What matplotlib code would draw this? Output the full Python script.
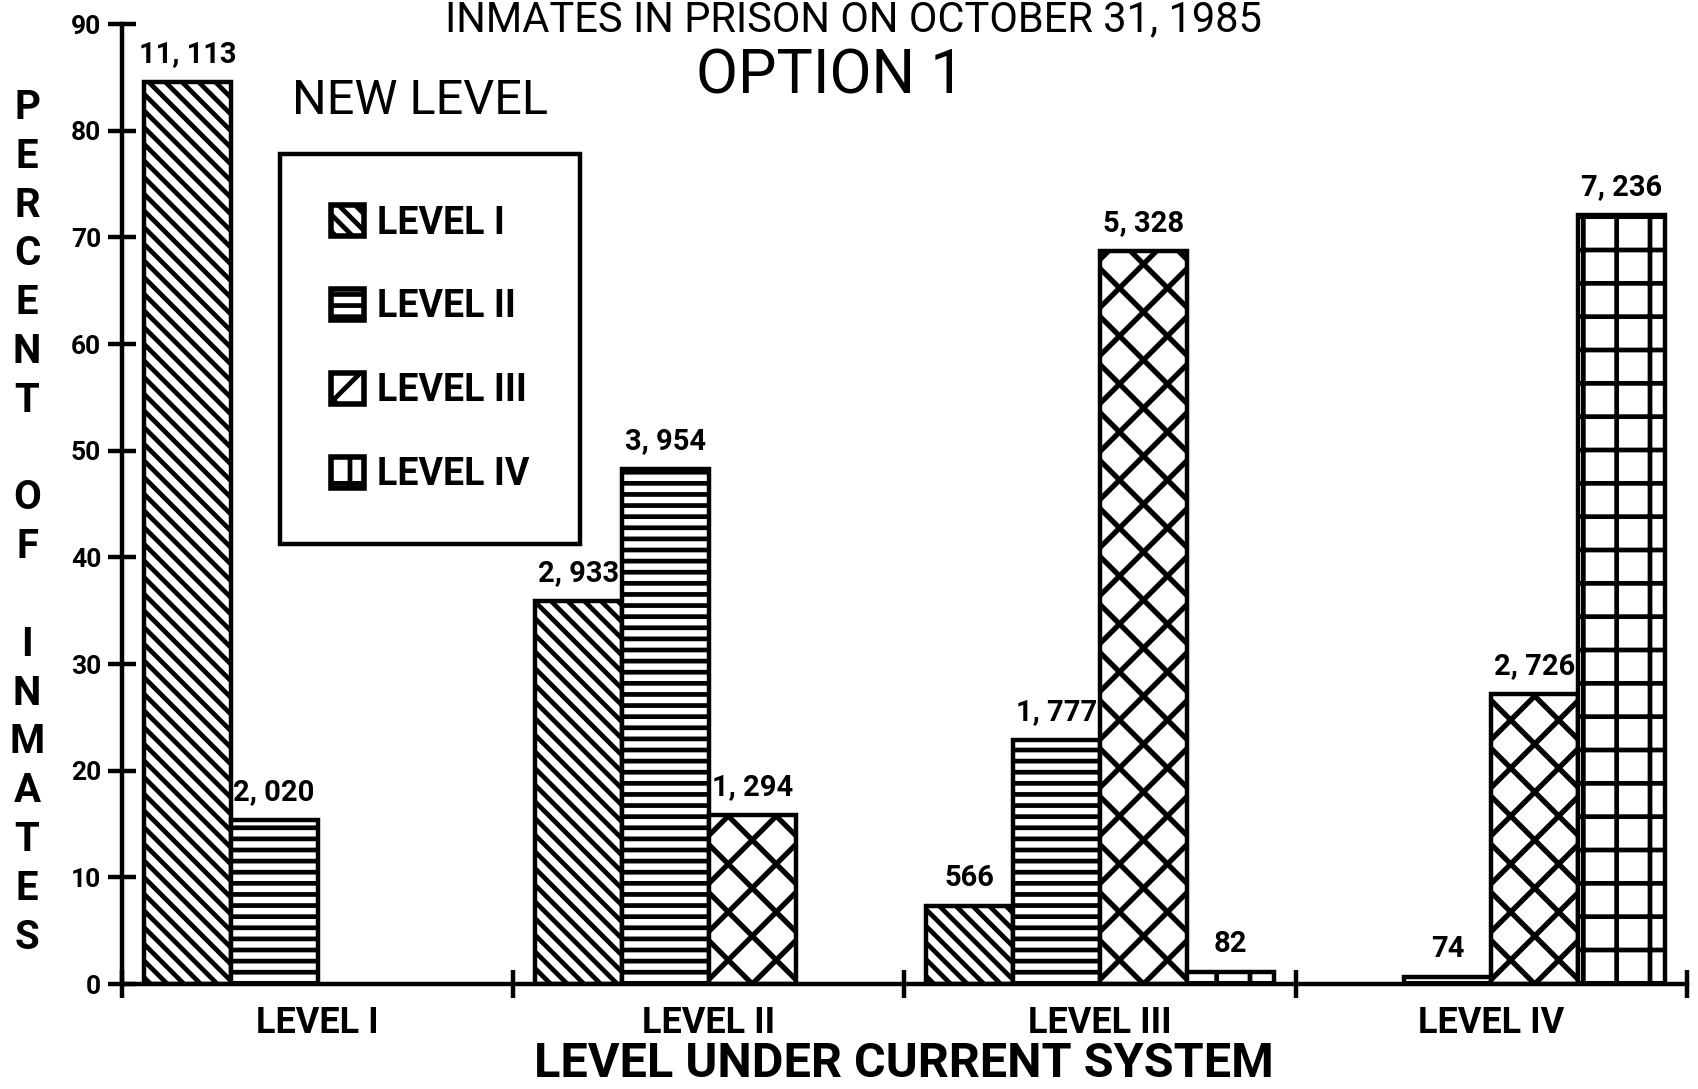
import numpy as np
import matplotlib
matplotlib.use('Agg')
import matplotlib.pyplot as plt
from matplotlib.patches import Patch
from matplotlib.collections import LineCollection
from matplotlib.transforms import IdentityTransform

# groups on the x axis = level under current system
current_levels = ['LEVEL I', 'LEVEL II', 'LEVEL III', 'LEVEL IV']
# series = new level
new_levels = ['LEVEL I', 'LEVEL II', 'LEVEL III', 'LEVEL IV']

# number of inmates (bar labels), one list per new level
level1_n = [11113, 2933, 566, 0]
level2_n = [2020, 3954, 1777, 74]
level3_n = [0, 1294, 5328, 2726]
level4_n = [0, 0, 82, 7236]

# percent of inmates (bar heights)
level1_pct = [84.6, 35.9, 7.3, 0.0]
level2_pct = [15.4, 48.3, 22.9, 0.7]
level3_pct = [0.0, 15.8, 68.7, 27.2]
level4_pct = [0.0, 0.0, 1.1, 72.1]

counts = [level1_n, level2_n, level3_n, level4_n]
pcts = [level1_pct, level2_pct, level3_pct, level4_pct]
BS = chr(92)  # backslash
hatches = [BS * 4, '---', '', '+']

plt.rcParams['font.family'] = ['Roboto', 'DejaVu Sans']
plt.rcParams['hatch.linewidth'] = 1.7
plt.rcParams['hatch.color'] = 'black'

DPI = 200
fig = plt.figure(figsize=(1699 / DPI, 1089 / DPI), dpi=DPI)
ax = fig.add_axes([0.0718, 0.0964, 0.9211, 0.8815])
ax.set_xlim(0, 4)
ax.set_ylim(0, 90)

w = 0.222
off = 0.056
x = np.arange(len(current_levels))


def cross_hatch(rect, step=48, lw=1.9):
    # big diamond crosshatch drawn in pixels, clipped to the bar
    (x0, y0), (x1, y1) = ax.transData.transform(
        [(rect.get_x(), rect.get_y()),
         (rect.get_x() + rect.get_width(), rect.get_y() + rect.get_height())])
    xc = (x0 + x1) / 2
    segs = []
    for k in range(-40, 41):
        c = xc - y0 + k * step
        segs.append([(y0 + c, y0), (y1 + c, y1)])
        d = xc + y0 + k * step
        segs.append([(d - y0, y0), (d - y1, y1)])
    lc = LineCollection(segs, colors='black', linewidths=lw,
                        transform=IdentityTransform(), zorder=1.5)
    ax.add_collection(lc)
    lc.set_clip_path(rect)


for k in range(4):
    n = np.array(counts[k])
    h = np.array(pcts[k])
    keep = n > 0
    bars = ax.bar(x[keep] + off + k * w, h[keep], width=w, align='edge',
                  facecolor='white', edgecolor='black', linewidth=1.6,
                  hatch=hatches[k])
    for b, v in zip(bars, n[keep]):
        ax.annotate(f'{v:,}'.replace(',', ', '),
                    (b.get_x() + w / 2, b.get_height()),
                    xytext=(0, 5), textcoords='offset points',
                    ha='center', va='bottom', fontsize=10.5, fontweight='bold')
        if k == 2:
            cross_hatch(b)

# axes styling
ax.spines[['top', 'right']].set_visible(False)
ax.spines['left'].set_linewidth(1.6)
ax.spines['bottom'].set_linewidth(1.6)
ax.set_yticks(range(0, 91, 10))
ax.set_yticklabels([str(t) for t in range(0, 91, 10)], fontweight='bold')
ax.set_xticks(range(5))
ax.set_xticklabels([])
ax.set_xticks(x + 0.5, current_levels, minor=True, fontweight='bold')
ax.tick_params(axis='both', which='major', direction='inout', length=10, width=1.6)
ax.tick_params(axis='y', labelsize=9.5, pad=2.5)
ax.tick_params(axis='x', which='minor', length=0, pad=7.5, labelsize=13)

# legend
handles = [Patch(facecolor='white', edgecolor='black', linewidth=2,
                 hatch=hh if hh else 'x') for hh in hatches]
leg = fig.legend(handles, new_levels, loc='upper left',
                 bbox_to_anchor=(0.1648, 0.8586), bbox_transform=fig.transFigure,
                 borderaxespad=0, fancybox=False, framealpha=1, edgecolor='black',
                 prop={'weight': 'bold', 'size': 13.5}, handlelength=0.9,
                 handleheight=0.9, handletextpad=0.35, labelspacing=1.25,
                 borderpad=1.35)
leg.get_frame().set_linewidth(1.6)

# titles
fig.text(0.5026, 0.9715, 'INMATES IN PRISON ON OCTOBER 31, 1985',
         ha='center', va='baseline', fontsize=15)
fig.text(0.4885, 0.9137, 'OPTION 1', ha='center', va='baseline', fontsize=22)
fig.text(0.247, 0.8953, 'NEW LEVEL', ha='center', va='baseline', fontsize=17.5)
fig.text(0.532, 0.011, 'LEVEL UNDER CURRENT SYSTEM', ha='center',
         va='baseline', fontsize=17.5, fontweight='bold')

# stacked y label
ylab = 'PERCENT OF INMATES'
for i, ch in enumerate(ylab):
    fig.text(0.0159, 1 - (108 + i * 48.8) / 1089, ch, ha='center', va='center',
             fontsize=14.5, fontweight='bold')

fig.savefig('out.png', dpi=DPI)
